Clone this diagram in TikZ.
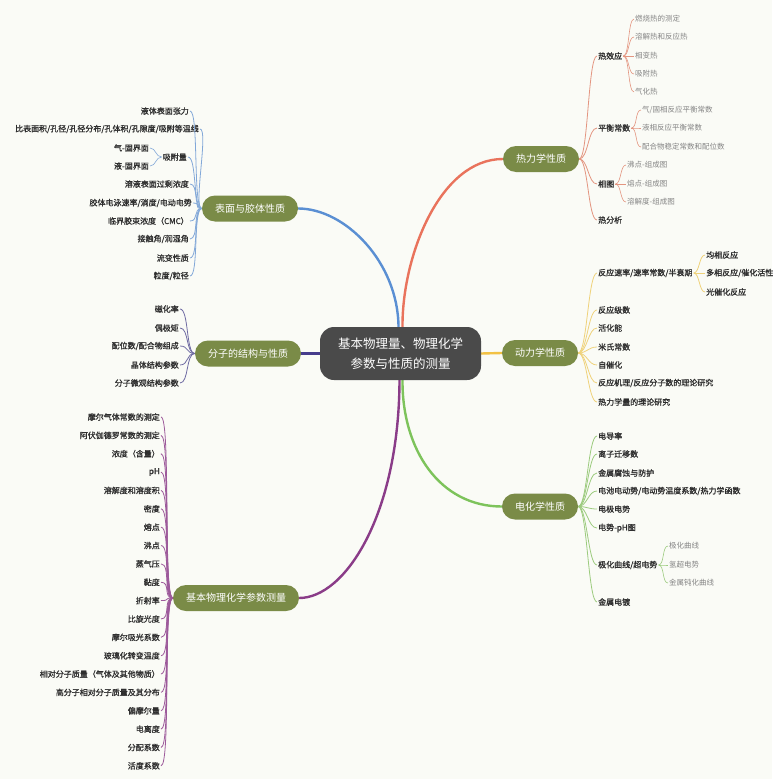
\documentclass[tikz,border=0pt]{standalone}
\usepackage{fontspec}
\usetikzlibrary{backgrounds}
\newfontfamily\cjk{Noto Sans CJK SC}
\newfontfamily\cjkb[FakeBold=1.2]{Noto Sans CJK SC}
\definecolor{bgc}{HTML}{FAFBF6}
\definecolor{olivec}{HTML}{7A8B47}
\definecolor{darkc}{HTML}{4A4A4A}
\definecolor{redc}{HTML}{E9735C}
\definecolor{redl}{HTML}{E39580}
\definecolor{yelc}{HTML}{F2C144}
\definecolor{yell}{HTML}{EFD27A}
\definecolor{grnc}{HTML}{7DC35B}
\definecolor{grnl}{HTML}{9CCB7E}
\definecolor{bluc}{HTML}{5A8FD3}
\definecolor{blul}{HTML}{82A8D8}
\definecolor{indc}{HTML}{463C8C}
\definecolor{indl}{HTML}{6E6AA2}
\definecolor{purc}{HTML}{8A3C88}
\definecolor{purl}{HTML}{9D5A9B}
\definecolor{leafc}{HTML}{2E2E2E}
\definecolor{subc}{HTML}{858585}
\tikzset{
  centerbox/.style={fill=darkc, rounded corners=14pt, minimum width=161pt, minimum height=53pt,
    text=white, align=center, font=\cjk\fontsize{12.5}{20}\selectfont, inner sep=0pt},
  mainbox/.style={fill=olivec, rounded corners=13pt, minimum height=26pt, inner xsep=13pt,
    inner ysep=0pt, text=white, font=\cjk\fontsize{10}{12}\selectfont},
  leafR/.style={anchor=west, inner sep=1pt, text=leafc, font=\cjkb\fontsize{8}{9}\selectfont},
  leafL/.style={anchor=east, inner sep=1pt, text=leafc, font=\cjkb\fontsize{8}{9}\selectfont},
  subR/.style={anchor=west, inner sep=1pt, text=subc, font=\cjk\fontsize{7.5}{9}\selectfont},
  subL/.style={anchor=east, inner sep=1pt, text=subc, font=\cjk\fontsize{7.5}{9}\selectfont},
  mainline/.style={line width=2.4pt, line cap=round},
  leafline/.style={line width=0.8pt},
  subline/.style={line width=0.6pt},
}
\begin{document}
\begin{tikzpicture}[x=1pt,y=-1pt]
\useasboundingbox (0,0) rectangle (778,779);
\begin{scope}[on background layer]
\fill[white] (0,0) rectangle (778,779);
\fill[bgc] (0,0) rectangle (772,779);
\end{scope}

% ---------- main nodes ----------
\node[centerbox] (c) at (400.5,353.5) {基本物理量、物理化学\\参数与性质的测量};
\node[mainbox] (t) at (541,159) {热力学性质};
\node[mainbox] (k) at (540,353) {动力学性质};
\node[mainbox] (e) at (540,506.5) {电化学性质};
\node[mainbox] (s) at (250,208.5) {表面与胶体性质};
\node[mainbox] (m) at (248,353.5) {分子的结构与性质};
\node[mainbox] (b) at (236,598) {基本物理化学参数测量};

% ---------- trunk connectors ----------
\begin{scope}[on background layer]
\draw[mainline, redc] ([xshift=2pt]c.north) .. controls (402,256) and (440,159) .. (t.west);
\draw[mainline, bluc] ([xshift=-2pt]c.north) .. controls (398,262) and (345,208.5) .. (s.east);
\draw[mainline, grnc] ([xshift=2pt]c.south) .. controls (402,450) and (440,506.5) .. (e.west);
\draw[mainline, purc] ([xshift=-1pt]c.south) .. controls (399,515) and (345,598) .. (b.east);
\draw[mainline, yelc] (c.east) -- (k.west);
\draw[mainline, indc] (c.west) -- (m.east);
\end{scope}

% ---------- thermodynamics ----------
\node[leafR] (t1) at (597,56) {热效应};
\node[leafR] (t2) at (597,128) {平衡常数};
\node[leafR] (t3) at (597,184) {相图};
\node[leafR] (t4) at (597,220) {热分析};
\foreach \n in {t1,t2,t3,t4} \draw[leafline, redl] (t.east) to[out=0,in=180,distance=9pt] (\n.west);
\node[subR] (t11) at (634,19) {燃烧热的测定};
\node[subR] (t12) at (634,37) {溶解热和反应热};
\node[subR] (t13) at (634,56) {相变热};
\node[subR] (t14) at (634,74) {吸附热};
\node[subR] (t15) at (634,92) {气化热};
\foreach \n in {t11,t12,t13,t14,t15} \draw[subline, redl] (t1.east) to[out=0,in=180,distance=6pt] (\n.west);
\node[subR] (t21) at (641,110) {气/固相反应平衡常数};
\node[subR] (t22) at (641,128) {液相反应平衡常数};
\node[subR] (t23) at (641,147) {配合物稳定常数和配位数};
\foreach \n in {t21,t22,t23} \draw[subline, redl] (t2.east) to[out=0,in=180,distance=6pt] (\n.west);
\node[subR] (t31) at (626,165) {沸点-组成图};
\node[subR] (t32) at (626,184) {熔点-组成图};
\node[subR] (t33) at (626,202) {溶解度-组成图};
\foreach \n in {t31,t32,t33} \draw[subline, redl] (t3.east) to[out=0,in=180,distance=6pt] (\n.west);

% ---------- kinetics ----------
\node[leafR] (k1) at (597,273) {反应速率/速率常数/半衰期};
\node[leafR] (k2) at (597,310) {反应级数};
\node[leafR] (k3) at (597,328) {活化能};
\node[leafR] (k4) at (597,347) {米氏常数};
\node[leafR] (k5) at (597,365) {自催化};
\node[leafR] (k6) at (597,383) {反应机理/反应分子数的理论研究};
\node[leafR] (k7) at (597,402) {热力学量的理论研究};
\foreach \n in {k1,k2,k3,k4,k5,k6,k7} \draw[leafline, yell] (k.east) to[out=0,in=180,distance=9pt] (\n.west);
\node[leafR] (k11) at (705,255) {均相反应};
\node[leafR] (k12) at (705,273) {多相反应/催化活性};
\node[leafR] (k13) at (705,292) {光催化反应};
\foreach \n in {k11,k12,k13} \draw[leafline, yell] (k1.east) to[out=0,in=180,distance=6pt] (\n.west);

% ---------- electrochemistry ----------
\node[leafR] (e1) at (597,436) {电导率};
\node[leafR] (e2) at (597,454) {离子迁移数};
\node[leafR] (e3) at (597,473) {金属腐蚀与防护};
\node[leafR] (e4) at (597,491) {电池电动势/电动势温度系数/热力学函数};
\node[leafR] (e5) at (597,509) {电极电势};
\node[leafR] (e6) at (597,528) {电势-pH图};
\node[leafR] (e7) at (597,565) {极化曲线/超电势};
\node[leafR] (e8) at (597,602) {金属电镀};
\foreach \n in {e1,e2,e3,e4,e5,e6,e7,e8} \draw[leafline, grnl] (e.east) to[out=0,in=180,distance=9pt] (\n.west);
\node[subR] (e71) at (668,546) {极化曲线};
\node[subR] (e72) at (668,565) {氢超电势};
\node[subR] (e73) at (668,583) {金属钝化曲线};
\foreach \n in {e71,e72,e73} \draw[subline, grnl] (e7.east) to[out=0,in=180,distance=6pt] (\n.west);

% ---------- surface & colloid ----------
\node[leafL] (s1) at (190,111) {液体表面张力};
\node[leafL] (s2) at (200,129) {比表面积/孔径/孔径分布/孔体积/孔隙度/吸附等温线};
\node[leafL] (s3) at (188,157) {吸附量};
\node[leafL] (s4) at (190,184) {溶液表面过剩浓度};
\node[leafL] (s5) at (193,203) {胶体电泳速率/淌度/电动电势};
\node[leafL] (s6) at (190,221) {临界胶束浓度（CMC）};
\node[leafL] (s7) at (190,239) {接触角/润湿角};
\node[leafL] (s8) at (190,258) {流变性质};
\node[leafL] (s9) at (190,276) {粒度/粒径};
\foreach \n in {s1,s2,s3,s4,s5,s6,s7,s8,s9} \draw[leafline, blul] (s.west) to[out=180,in=0,distance=9pt] (\n.east);
\node[leafL] (s31) at (150,148) {气-固界面};
\node[leafL] (s32) at (150,166) {液-固界面};
\foreach \n in {s31,s32} \draw[subline, blul] (s3.west) to[out=180,in=0,distance=6pt] (\n.east);

% ---------- molecular structure ----------
\node[leafL] (m1) at (180,309) {磁化率};
\node[leafL] (m2) at (180,328) {偶极矩};
\node[leafL] (m3) at (180,346) {配位数/配合物组成};
\node[leafL] (m4) at (180,365) {晶体结构参数};
\node[leafL] (m5) at (180,383) {分子微观结构参数};
\foreach \n in {m1,m2,m3,m4,m5} \draw[leafline, indl] (m.west) to[out=180,in=0,distance=9pt] (\n.east);

% ---------- basic parameters ----------
\foreach \lbl [count=\i] in {摩尔气体常数的测定,阿伏伽德罗常数的测定,浓度（含量）,pH,溶解度和溶度积,密度,熔点,沸点,蒸气压,黏度,折射率,比旋光度,摩尔吸光系数,玻璃化转变温度,相对分子质量（气体及其他物质）,高分子相对分子质量及其分布,偏摩尔量,电离度,分配系数,活度系数}{
  \node[leafL] (b\i) at (161,{417+18.36*(\i-1)}) {\lbl};
  \draw[leafline, purl] (b.west) to[out=180,in=0,distance=10pt] (b\i.east);
}
\end{tikzpicture}
\end{document}
